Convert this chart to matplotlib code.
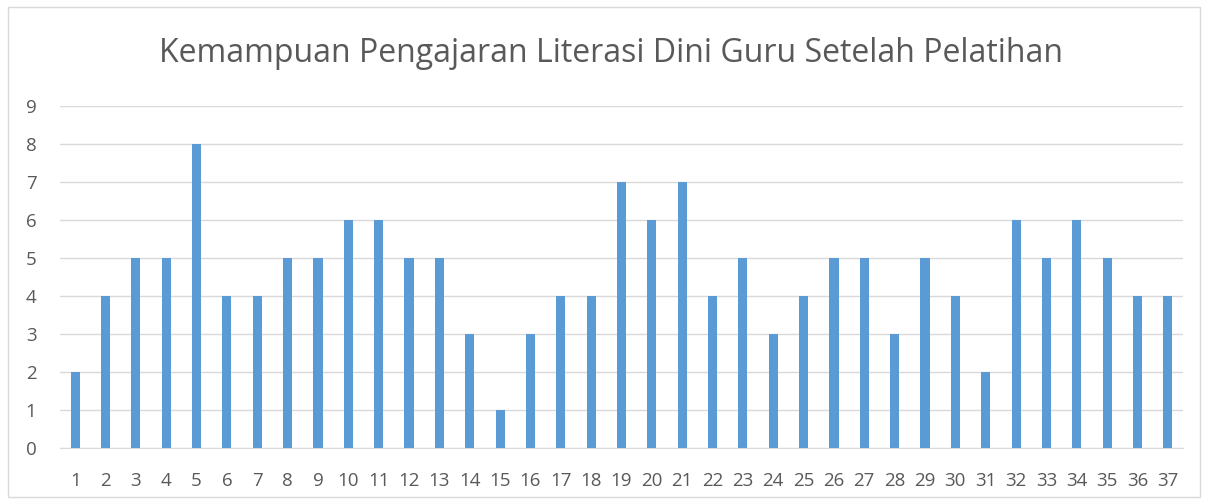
import matplotlib
matplotlib.use('Agg')
import matplotlib.pyplot as plt
from matplotlib.patches import Rectangle

# data
guru = list(range(1, 38))
skor = [2, 4, 5, 5, 8, 4, 4, 5, 5, 6, 6, 5, 5, 3, 1, 3, 4, 4, 7, 6,
        7, 4, 5, 3, 4, 5, 5, 3, 5, 4, 2, 6, 5, 6, 5, 4, 4]
yticks = list(range(0, 10))
judul = 'Kemampuan Pengajaran Literasi Dini Guru Setelah Pelatihan'

plt.rcParams['font.family'] = ['Open Sans', 'DejaVu Sans']

W, H = 1207, 504
fig = plt.figure(figsize=(W / 100, H / 100), dpi=100)
fig.patch.set_facecolor('white')

# outer chart border like an Excel chart frame
fig.add_artist(Rectangle((8 / W, 7 / H), 1192 / W, 490 / H, transform=fig.transFigure,
                         fill=False, edgecolor='#D9D9D9', linewidth=1))

ax = fig.add_axes([60 / W, 1 - 448 / H, (1183 - 60) / W, (448 - 106) / H])
ax.bar(guru, skor, width=0.3, color='#5B9BD5', zorder=3)

ax.set_xlim(0.5, 37.5)
ax.set_ylim(0, 9)
ax.set_yticks(yticks)
ax.set_xticks(guru)
ax.grid(axis='y', color='#D9D9D9', linewidth=1, zorder=0)
for s in ['top', 'right', 'left']:
    ax.spines[s].set_visible(False)
ax.spines['bottom'].set_color('#D9D9D9')
ax.tick_params(length=0, colors='#595959', labelsize=13.5)
ax.tick_params(axis='x', pad=17)
ax.tick_params(axis='y', pad=17)

fig.text(611 / W, 1 - 53 / H, judul, ha='center', va='center',
         fontsize=23, color='#595959')

fig.savefig('out.png', dpi=100)
